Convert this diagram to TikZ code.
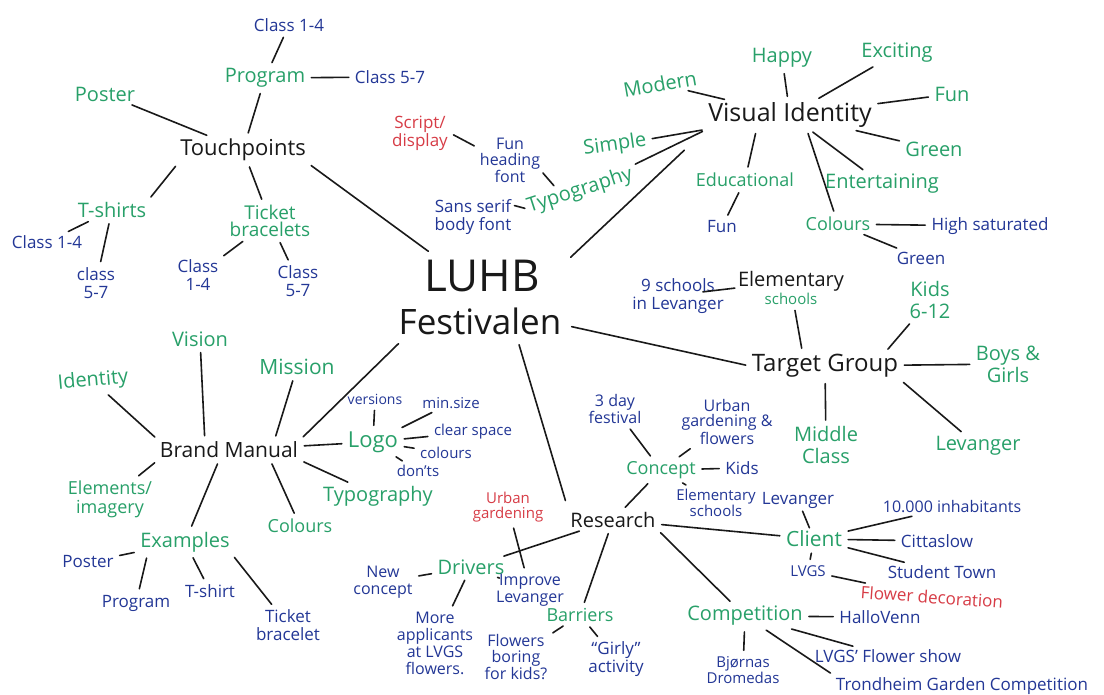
\documentclass[tikz,border=0pt]{standalone}
\usepackage{fontspec}
\setmainfont{Open Sans}
\usetikzlibrary{calc,fit}
\definecolor{pgreen}{RGB}{40,160,105}
\definecolor{pblue}{RGB}{35,55,150}
\definecolor{pred}{RGB}{215,60,70}
\definecolor{pink}{RGB}{25,25,25}
\begin{document}
\begin{tikzpicture}[x=1pt,y=-1pt,
  every node/.style={inner sep=2pt, align=center},
  main/.style={text=pink, font=\fontsize{22}{25}\selectfont},
  sub/.style={text=pgreen, font=\fontsize{20}{22}\selectfont},
  leaf/.style={text=pblue, font=\fontsize{17}{17.5}\selectfont},
  small/.style={text=pblue, font=\fontsize{15}{17}\selectfont},
  redl/.style={text=pred, font=\fontsize{17}{18}\selectfont},
  link/.style={draw=pink, line width=1.6pt, line cap=round, shorten <=4pt, shorten >=4pt},
  shortlink/.style={link, shorten <=1pt, shorten >=1pt}]
\path[use as bounding box, fill=white] (0,0) rectangle (1104,695);

% ---------- centre ----------
\node[text=pink, font=\fontsize{44}{44}\selectfont] (luhb) at (482,276) {LUHB};
\node[text=pink, font=\fontsize{35}{35}\selectfont] (fest) at (480,321) {Festivalen};
\node[fit=(luhb)(fest), inner sep=4pt] (hub) {};

% ---------- Touchpoints ----------
\node[main] (tp) at (243,150) {Touchpoints};
\node[sub] (tpPoster) at (105,94) {Poster};
\node[sub] (tpProg) at (265,78) {Program};
\node[leaf] (tpC14) at (289,25) {Class 1-4};
\node[leaf] (tpC57) at (390,77) {Class 5-7};
\node[sub] (tsh) at (112,210) {T-shirts};
\node[leaf] (tshC14) at (47,242) {Class 1-4};
\node[leaf] (tshC57) at (96,283) {class\\5-7};
\node[sub, font=\fontsize{19}{17}\selectfont] (tb) at (270,221) {Ticket\\bracelets};
\node[leaf] (tbC14) at (198,275) {Class\\1-4};
\node[leaf] (tbC57) at (298,281) {Class\\5-7};

% ---------- Typography ----------
\node[sub, rotate=18] (typo) at (580,191) {Typography};
\node[leaf, font=\fontsize{16}{16}\selectfont] (funhf) at (510,160) {Fun\\heading\\font};
\node[redl] (script) at (420,133) {Script/\\display};
\node[leaf] (sans) at (473,217) {Sans serif\\body font};

% ---------- Visual Identity ----------
\node[main, font=\fontsize{25}{27}\selectfont] (vi) at (790,115) {Visual Identity};
\node[sub, rotate=10] (modern) at (660,84) {Modern};
\node[sub, rotate=8] (simple) at (615,145) {Simple};
\node[sub] (happy) at (782,58) {Happy};
\node[sub] (exciting) at (897,53) {Exciting};
\node[sub] (viFun) at (952,94) {Fun};
\node[sub] (viGreen) at (934,149) {Green};
\node[sub] (entert) at (882,184) {Entertaining};
\node[sub, font=\fontsize{18}{20}\selectfont] (educ) at (745,180) {Educational};
\node[leaf] (eduFun) at (722,227) {Fun};
\node[sub, font=\fontsize{18}{20}\selectfont] (colours) at (838,224) {Colours};
\node[leaf] (highsat) at (990,226) {High saturated};
\node[leaf] (colGreen) at (921,258) {Green};

% ---------- Target Group ----------
\node[main, font=\fontsize{24}{26}\selectfont] (tg) at (825,366) {Target Group};
\node (elem) at (791,288) {{\fontsize{20}{18}\selectfont\color{pink}Elementary}\\{\fontsize{15}{15}\selectfont\color{pgreen}schools}};
\node[leaf] (nine) at (678,296) {9 schools\\in Levanger};
\node[sub] (kids) at (930,300) {Kids\\6-12};
\node[sub] (boys) at (1008,364) {Boys \&\\Girls};
\node[sub] (middle) at (826,445) {Middle\\Class};
\node[sub] (lev) at (978,446) {Levanger};

% ---------- Brand Manual ----------
\node[main, font=\fontsize{21}{24}\selectfont] (bm) at (229,450) {Brand Manual};
\node[sub, rotate=5] (ident) at (93,381) {Identity};
\node[sub] (vision) at (200,339) {Vision};
\node[sub, font=\fontsize{21}{22}\selectfont] (mission) at (297,367) {Mission};
\node[sub, font=\fontsize{22}{22}\selectfont] (logo) at (373,442) {Logo};
\node[small, font=\fontsize{14}{16}\selectfont] (versions) at (375,399) {versions};
\node[small] (minsize) at (451,403) {min.size};
\node[small] (clear) at (473,432) {clear space};
\node[small] (lcol) at (446,453) {colours};
\node[small] (donts) at (418,471) {don'ts};
\node[sub] (bmTypo) at (378,496) {Typography};
\node[sub, font=\fontsize{18}{20}\selectfont] (bmCol) at (300,526) {Colours};
\node[sub, font=\fontsize{18}{19}\selectfont] (elim) at (110,499) {Elements/\\imagery};
\node[sub] (examples) at (185,542) {Examples};
\node[leaf] (exPoster) at (88,562) {Poster};
\node[leaf] (exProg) at (136,603) {Program};
\node[leaf] (exTshirt) at (210,591) {T-shirt};
\node[leaf] (exTicket) at (288,625) {Ticket\\bracelet};

% ---------- Research ----------
\node[main, font=\fontsize{20}{22}\selectfont] (res) at (613,520) {Research};
\node[sub, font=\fontsize{18}{20}\selectfont] (concept) at (661,470) {Concept};
\node[leaf, font=\fontsize{16}{16}\selectfont] (festiv) at (615,409) {3 day\\festival};
\node[leaf, font=\fontsize{16}{15}\selectfont] (urbanfl) at (727,422) {Urban\\gardening \&\\flowers};
\node[leaf] (ckids) at (742,468) {Kids};
\node[leaf, font=\fontsize{15}{14}\selectfont] (celem) at (716,503) {Elementary\\schools};
\node[sub] (drivers) at (471,567) {Drivers};
\node[redl, font=\fontsize{15}{15}\selectfont] (urbanG) at (508,507) {Urban\\gardening};
\node[leaf, font=\fontsize{16}{17}\selectfont] (improve) at (530,590) {Improve\\Levanger};
\node[leaf, font=\fontsize{16}{17}\selectfont] (newc) at (383,582) {New\\concept};
\node[leaf, font=\fontsize{16}{17}\selectfont] (more) at (435,643) {More\\applicants\\at LVGS\\flowers.};
\node[sub, font=\fontsize{18}{20}\selectfont] (barriers) at (580,615) {Barriers};
\node[leaf, font=\fontsize{16}{16}\selectfont] (fbk) at (516,657) {Flowers\\boring\\for kids?};
\node[leaf] (girly) at (616,659) {``Girly''\\activity};
\node[sub, font=\fontsize{21}{22}\selectfont] (client) at (814,539) {Client};
\node[leaf] (clev) at (798,500) {Levanger};
\node[leaf, font=\fontsize{16}{17}\selectfont] (inhab) at (952,507) {10.000 inhabitants};
\node[leaf] (citta) at (937,541) {Cittaslow};
\node[leaf] (student) at (942,572) {Student Town};
\node[leaf, font=\fontsize{15}{16}\selectfont] (lvgs) at (808,571) {LVGS};
\node[redl, rotate=-4] (flowerdec) at (932,597) {Flower decoration};
\node[sub] (comp) at (745,616) {Competition};
\node[leaf] (hallo) at (880,617) {HalloVenn};
\node[leaf, font=\fontsize{15}{16}\selectfont] (bjorn) at (743,670) {Bjørnas\\Dromedas};
\node[leaf] (lvgsfs) at (888,656) {LVGS' Flower show};
\node[leaf] (trond) at (962,686) {Trondheim Garden Competition};

% ---------- connectors ----------
\draw[link] (tp.south east) -- (hub.138);
\draw[link, shorten >=30pt] (hub.23) -- (vi.south west);
\draw[link] (hub.-18) -- (tg.west);
\draw[link, shorten >=10pt] (hub.-49) -- (res.north west);
\draw[link] (hub.-151) -- (bm.north east);

\draw[link] (tp) -- (tpPoster);
\draw[link] (tp) -- (tpProg);
\draw[link] (tpProg) -- (tpC14);
\draw[link] (tpProg) -- (tpC57);
\draw[link] (tp.south west) -- (tsh.north east);
\draw[link] (tp) -- (tb);
\draw[link] (tsh) -- (tshC14);
\draw[link] (tsh) -- (tshC57);
\draw[link] (tb) -- (tbC14);
\draw[link] (tb) -- (tbC57);

\draw[shortlink] ($(funhf.east)!0.5!(funhf.south east)$) -- ($(typo.north west)!0.3!(typo.north east)$);
\draw[link] (script.east) -- ($(funhf.north west)!0.5!(funhf.west)$);
\draw[shortlink] ($(sans.north east)!0.4!(sans.east)$) -- (typo.west);
\draw[link] (typo) -- (vi.south west);

\draw[link] (vi) -- (modern);
\draw[link] (vi) -- (simple);
\draw[link] (vi) -- (happy);
\draw[link] (vi) -- (exciting);
\draw[link] (vi) -- (viFun);
\draw[link] (vi) -- (viGreen);
\draw[link] (vi) -- (entert);
\draw[link] ($(vi.south west)!0.3!(vi.south east)$) -- (educ);
\draw[link] ($(vi.south west)!0.6!(vi.south east)$) -- (colours);
\draw[link] (educ) -- (eduFun);
\draw[link] (colours) -- (highsat);
\draw[link] (colours) -- (colGreen);

\draw[link] ($(tg.north west)!0.35!(tg.north east)$) -- (elem);
\draw[shortlink] ($(nine.east)+(-24,-4)$) -- (elem.west);
\draw[link] ($(tg.north west)!0.9!(tg.north east)$) -- (kids);
\draw[link] (tg) -- (boys);
\draw[link] (tg) -- (middle);
\draw[link] (tg.south east) -- (lev);

\draw[link] (bm.north west) -- (ident);
\draw[link] ($(bm.north west)!0.33!(bm.north east)$) -- (vision);
\draw[link] ($(bm.north west)!0.82!(bm.north east)$) -- (mission);
\draw[link] (bm) -- (logo);
\draw[link] (logo) -- (versions);
\draw[link] (logo) -- (minsize);
\draw[link] (logo) -- (clear);
\draw[link] (logo) -- (lcol);
\draw[link] (logo) -- (donts);
\draw[link] (bm.south east) -- (bmTypo);
\draw[link] ($(bm.south west)!0.79!(bm.south east)$) -- (bmCol);
\draw[link] (bm.south west) -- (elim);
\draw[link] ($(bm.south west)!0.43!(bm.south east)$) -- (examples);
\draw[link] (examples) -- (exPoster);
\draw[link] ($(examples.south west)!0.1!(examples.south east)$) -- (exProg);
\draw[link] (examples) -- (exTshirt);
\draw[link] (examples.south east) -- (exTicket);

\draw[link] (res) -- (concept);
\draw[link] (concept) -- (festiv);
\draw[link] (concept) -- (urbanfl);
\draw[link] (concept) -- (ckids);
\draw[link] (concept) -- (celem);
\draw[link] (res) -- (client);
\draw[link] (res.south east) -- (comp);
\draw[link] (res) -- (drivers);
\draw[link] (urbanG) -- (improve);
\draw[link] (drivers) -- (improve);
\draw[link] (drivers) -- (newc);
\draw[link] (drivers) -- (more);
\draw[link] (res) -- (barriers);
\draw[link] (barriers) -- (fbk);
\draw[link] (barriers) -- (girly);
\draw[shortlink] (client) -- (clev);
\draw[link] (client) -- (inhab);
\draw[link] (client) -- (citta);
\draw[link] (client) -- (student);
\draw[link] (client) -- (lvgs);
\draw[link] (lvgs) -- (flowerdec);
\draw[link] (comp) -- (hallo);
\draw[link] (comp) -- (bjorn);
\draw[link] (comp) -- (lvgsfs);
\draw[link] (comp) -- (trond.north west);
\end{tikzpicture}
\end{document}
